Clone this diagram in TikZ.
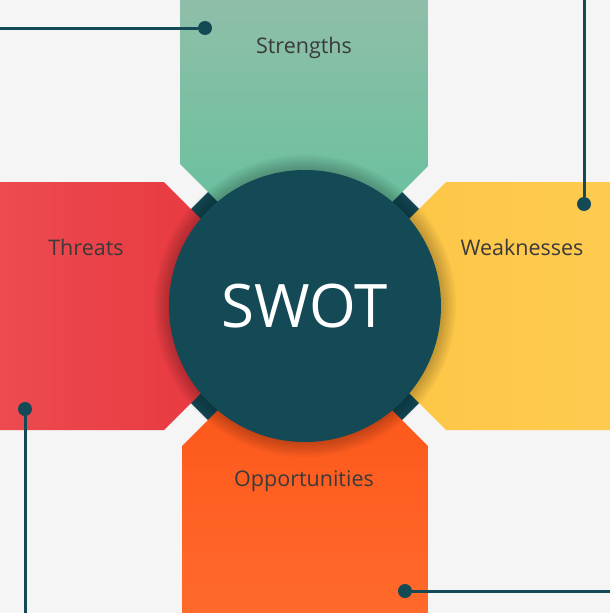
\documentclass[tikz,border=0pt]{standalone}
\usepackage{fontspec}
\setmainfont{Open Sans}
\usetikzlibrary{positioning}
\definecolor{bgGray}{HTML}{F5F5F5}
\definecolor{swotTeal}{HTML}{134A56}
\definecolor{labelGray}{HTML}{3A3A3A}
\definecolor{greenTop}{HTML}{8FBEA9}
\definecolor{greenBot}{HTML}{5BC29A}
\definecolor{redLeft}{HTML}{EC4B50}
\definecolor{redRight}{HTML}{E6323A}
\definecolor{yellowLeft}{HTML}{FDC443}
\definecolor{yellowRight}{HTML}{FECB50}
\definecolor{orangeTop}{HTML}{FD5115}
\definecolor{orangeBot}{HTML}{FE6A2B}

\begin{document}
\begin{tikzpicture}[x=1pt,y=-1pt,
  label/.style={text=labelGray,font=\fontsize{21.5}{26}\selectfont},
  hub/.style={circle,fill=swotTeal,inner sep=0pt,minimum size=272pt,
              text=white,font=\fontsize{60}{66}\selectfont},
  pin/.style={circle,fill=swotTeal,inner sep=0pt,minimum size=14pt},
  wire/.style={draw=swotTeal,line width=3pt}]
\useasboundingbox[fill=bgGray] (0,0) rectangle (610,613);

% dark diamond behind the arms, seen only in the gaps
\fill[swotTeal] (305,95) -- (516,306) -- (305,517) -- (94,306) -- cycle;

% arms
\shade[top color=greenTop,bottom color=greenBot]
  (180,0) -- (428,0) -- (428,166) -- (305,289) -- (180,164) -- cycle;
\shade[left color=redLeft,right color=redRight]
  (0,182) -- (164,182) -- (288,306) -- (164,430) -- (0,430) -- cycle;
\shade[top color=orangeTop,bottom color=orangeBot]
  (182,613) -- (182,446) -- (305,323) -- (428,446) -- (428,613) -- cycle;
\shade[left color=yellowLeft,right color=yellowRight]
  (610,182) -- (446,182) -- (322,306) -- (446,430) -- (610,430) -- cycle;

% soft shadow round the hub
\foreach \r in {137,139,...,151}
  \fill[black,opacity=0.03] (305,306) circle (\r pt);

\node[hub] (swot) at (305,306) {SWOT};

\node[label] (strengths) at (304,48) {Strengths};
\node[label] (threats) at (86,247) {Threats};
\node[label] (weak) at (522,247) {Weaknesses};
\node[label] (opps) at (304,481) {Opportunities};

% pins and wires
\node[pin] (pinS) at (205,28) {};
\node[pin] (pinW) at (584,204) {};
\node[pin] (pinT) at (25,409) {};
\node[pin] (pinO) at (405,591) {};
\coordinate (endS) at (0,28);
\coordinate (endW) at (584,0);
\coordinate (endT) at (25,613);
\coordinate (endO) at (610,591);
\draw[wire] (endS) -- (pinS);
\draw[wire] (endW) -- (pinW);
\draw[wire] (endT) -- (pinT);
\draw[wire] (endO) -- (pinO);
\end{tikzpicture}
\end{document}
